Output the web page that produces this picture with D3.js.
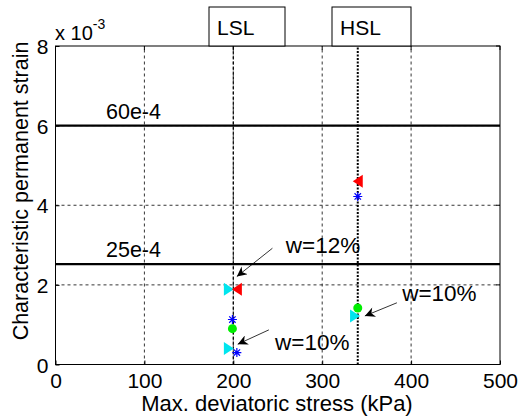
<!DOCTYPE html>
<html><head><meta charset="utf-8">
<script src="https://cdn.jsdelivr.net/npm/d3@7"></script>
<style>body{margin:0;background:#fff}svg{display:block}text{font-family:"Liberation Sans",Arial,sans-serif;fill:#000}</style>
</head><body><svg id="c" width="518" height="416"></svg>
<script>
// ---- data ----
const xTicks = [0, 100, 200, 300, 400, 500];
const yTicks = [0, 2, 4, 6, 8];
const limitX = [200, 340];            // LSL, HSL
const limitNames = ["LSL", "HSL"];
const hLines = [6.0, 2.52];          // x10^-3
const hLineLabels = ["60e-4", "25e-4"];
const redTriX = [204, 340], redTriY = [1.89, 4.60];
const cyanTriX = [195, 195, 337], cyanTriY = [1.89, 0.40, 1.22];
const blueStarX = [199, 204, 340], blueStarY = [1.13, 0.30, 4.22];
const greenX = [199, 340], greenY = [0.90, 1.42];
const noteText = ["w=12%", "w=10%", "w=10%"];
const noteTextX = [259, 247, 390], noteTextY = [2.80, 0.36, 1.60];
const arrowFromX = [244, 240, 384], arrowFromY = [2.92, 0.87, 1.55];
const arrowToX = [204, 205, 348], arrowToY = [2.21, 0.51, 1.22];

const svg = d3.select("#c");
const x = d3.scaleLinear().domain([0, 500]).range([55.5, 500]);
const y = d3.scaleLinear().domain([0, 8]).range([364.5, 46]);
const g = svg.append("g");

// grid
g.selectAll(".gx").data(xTicks.filter(d => d > 0 && d < 500)).join("line")
  .attr("x1", d => x(d)).attr("x2", d => x(d)).attr("y1", y(0)).attr("y2", y(8))
  .attr("stroke", "#000").attr("stroke-width", 0.8).attr("stroke-dasharray", "3,3");
g.selectAll(".gy").data(yTicks.filter(d => d > 0 && d < 8)).join("line")
  .attr("x1", x(0)).attr("x2", x(500)).attr("y1", d => y(d)).attr("y2", d => y(d))
  .attr("stroke", "#000").attr("stroke-width", 0.8).attr("stroke-dasharray", "3,3");

// axes
const ax = d3.axisBottom(x).tickValues(xTicks).tickSizeInner(-4).tickSizeOuter(0).tickPadding(8);
const ay = d3.axisLeft(y).tickValues(yTicks).tickSizeInner(-4).tickSizeOuter(0).tickPadding(7);
const gx = g.append("g").attr("transform", `translate(0,${y(0)})`).call(ax);
const gy = g.append("g").attr("transform", `translate(${x(0)},0)`).call(ay);
[gx, gy].forEach(a => { a.select(".domain").remove(); a.selectAll("text").style("font-size", "21px").style("font-family", "Liberation Sans, Arial"); });
gy.selectAll("text").attr("dy", "0.36em");
gx.selectAll("text").attr("dy", "0.72em");
// frame
g.append("rect").attr("x", x(0)).attr("y", y(8)).attr("width", x(500) - x(0)).attr("height", y(0) - y(8))
  .attr("fill", "none").attr("stroke", "#000").attr("stroke-width", 1);
// top/right ticks
g.selectAll(".tt").data(xTicks).join("line").attr("x1", d => x(d)).attr("x2", d => x(d))
  .attr("y1", y(8)).attr("y2", y(8) + 4).attr("stroke", "#000");
g.selectAll(".tr").data(yTicks).join("line").attr("x1", x(500)).attr("x2", x(500) - 4)
  .attr("y1", d => y(d)).attr("y2", d => y(d)).attr("stroke", "#000");

// exponent
const ex = g.append("text").attr("x", 55).attr("y", 40).style("font-size", "20px");
ex.append("tspan").text("x 10");
ex.append("tspan").attr("dy", -11).style("font-size", "14px").text("-3");

// horizontal limit lines
g.selectAll(".hl").data(hLines).join("line")
  .attr("x1", x(0)).attr("x2", x(500)).attr("y1", d => y(d)).attr("y2", d => y(d))
  .attr("stroke", "#000").attr("stroke-width", 2.2);
g.selectAll(".hlt").data(hLineLabels).join("text")
  .attr("x", 106).attr("y", (d, i) => y(hLines[i]) - 7).style("font-size", "21.5px").text(d => d);

// LSL/HSL vertical lines and boxes
g.selectAll(".vl").data(limitX).join("line")
  .attr("x1", d => x(d)).attr("x2", d => x(d)).attr("y1", y(0)).attr("y2", y(8))
  .attr("stroke", "#000").attr("stroke-width", (d, i) => i ? 2 : 1.2)
  .attr("stroke-dasharray", (d, i) => i ? "2,1.5" : "3,2");
const boxW = [76, 79];
const boxL = [209, 332];
g.selectAll(".lb").data(limitNames).join("rect")
  .attr("x", (d, i) => boxL[i]).attr("y", 7).attr("width", (d, i) => boxW[i]).attr("height", y(8) - 7)
  .attr("fill", "#fff").attr("stroke", "#000").attr("stroke-width", 1);
g.selectAll(".lbt").data(limitNames).join("text")
  .attr("x", (d, i) => boxL[i] + 8).attr("y", 35).style("font-size", "21px").text(d => d);

// markers
const tri = (dir) => { const h = 6.5, w = 10; return dir < 0 ? `M${-w/2},0L${w/2},${-h}L${w/2},${h}Z` : `M${w/2},0L${-w/2},${-h}L${-w/2},${h}Z`; };
g.selectAll(".ct").data(cyanTriX).join("path")
  .attr("transform", (d, i) => `translate(${x(d)},${y(cyanTriY[i])})`).attr("d", tri(1)).attr("fill", "#00e5ee");
g.selectAll(".rt").data(redTriX).join("path")
  .attr("transform", (d, i) => `translate(${x(d)},${y(redTriY[i])})`).attr("d", tri(-1)).attr("fill", "#ff0000");
g.selectAll(".gc").data(greenX).join("circle")
  .attr("cx", d => x(d)).attr("cy", (d, i) => y(greenY[i])).attr("r", 4.5).attr("fill", "#00ee00");
const star = "M-4.5,0L4.5,0M0,-4.5L0,4.5M-3.2,-3.2L3.2,3.2M-3.2,3.2L3.2,-3.2";
g.selectAll(".bs").data(blueStarX).join("path")
  .attr("transform", (d, i) => `translate(${x(d)},${y(blueStarY[i])})`).attr("d", star)
  .attr("stroke", "#0000ff").attr("stroke-width", 1.2).attr("fill", "none");

// annotations
svg.append("defs").append("marker").attr("id", "ah").attr("viewBox", "0 0 10 10")
  .attr("refX", 10).attr("refY", 5).attr("markerWidth", 14).attr("markerHeight", 10)
  .attr("markerUnits", "userSpaceOnUse").attr("orient", "auto")
  .append("path").attr("d", "M0,0L10,5L0,10L3,5Z").attr("fill", "#000");
g.selectAll(".ar").data(arrowFromX).join("line")
  .attr("x1", d => x(d)).attr("y1", (d, i) => y(arrowFromY[i]))
  .attr("x2", (d, i) => x(arrowToX[i])).attr("y2", (d, i) => y(arrowToY[i]))
  .attr("stroke", "#000").attr("stroke-width", 0.8).attr("marker-end", "url(#ah)");
g.selectAll(".nt").data(noteText).join("text")
  .attr("x", (d, i) => x(noteTextX[i])).attr("y", (d, i) => y(noteTextY[i]))
  .style("font-size", "22.5px").text(d => d);

// axis titles
g.append("text").attr("x", 277).attr("y", 411).attr("text-anchor", "middle")
  .style("font-size", "22px").text("Max. deviatoric stress (kPa)");
g.append("text").attr("transform", `translate(28,191) rotate(-90)`).attr("text-anchor", "middle")
  .style("font-size", "21.5px").text("Characteristic permanent strain");
</script></body></html>
